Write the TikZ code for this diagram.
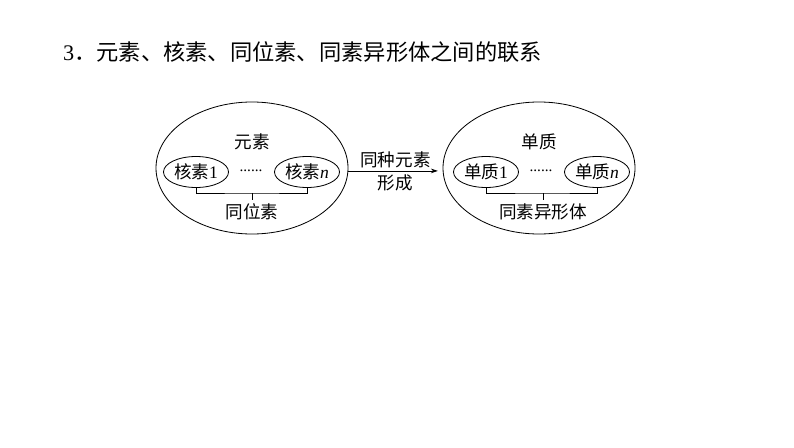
\documentclass[tikz,border=0pt]{standalone}
\usepackage{fontspec}
\setmainfont{Liberation Serif}
\newfontfamily\cjk{Noto Sans CJK SC}
\usetikzlibrary{arrows.meta,shapes.geometric}

\tikzset{
  xian/.style={line width=0.7pt},
  wenzi/.style={font=\cjk\fontsize{15}{17}\selectfont, inner sep=1pt},
  dayuan/.style={draw, ellipse, xian, minimum width=5.76cm, minimum height=3.96cm, inner sep=0pt},
  xiaoyuan/.style={draw, ellipse, xian, wenzi, minimum width=1.95cm, minimum height=0.93cm, inner sep=0pt},
  diandian/.style={font=\fontsize{13}{15}\selectfont, inner sep=0pt}
}

\begin{document}
\begin{tikzpicture}[x=0.03cm, y=-0.03cm]
    \useasboundingbox (0,0) rectangle (794,447);

    % 标题
    \node[anchor=west, font=\fontsize{19}{22}\selectfont, inner sep=0pt] (biaoti) at (63,52)
        {3{\cjk ．元素、核素、同位素、同素异形体之间的联系}};

    % 左边：元素
    \node[dayuan] (yuansu) at (252,168) {};
    \node[wenzi] (ysbq) at (252,142) {元素};
    \node[xiaoyuan] (he1) at (196,172) {核素\textrm{1}};
    \node[xiaoyuan] (hen) at (307,172) {核素\textrm{\textit{n}}};
    \node[diandian] (zuodian) at (251,171) {......};

    % 同位素的括号
    \coordinate (zuozhong) at (252,193);
    \draw[xian] (he1.south) |- (zuozhong) -| (hen.south);
    \draw[xian] (zuozhong) -- ++(0,7);
    \node[wenzi] (tongwei) at (252,212) {同位素};

    % 右边：单质
    \node[dayuan] (danzhi) at (539,168) {};
    \node[wenzi] (dzbq) at (539,142) {单质};
    \node[xiaoyuan] (dz1) at (486,172) {单质\textrm{1}};
    \node[xiaoyuan] (dzn) at (597,172) {单质\textrm{\textit{n}}};
    \node[diandian] (youdian) at (541,171) {......};

    % 同素异形体的括号
    \coordinate (youzhong) at (543,193);
    \draw[xian] (dz1.south) |- (youzhong) -| (dzn.south);
    \draw[xian] (youzhong) -- ++(0,7);
    \node[wenzi] (tongsu) at (543,212) {同素异形体};

    % 中间的箭头
    \draw[xian, -{Stealth[length=6pt,width=4pt]}, shorten >=4pt] ([yshift=-2.5pt]yuansu.east) -- ([yshift=-2.5pt]danzhi.west)
        node[wenzi, midway, above=1pt] (tzys) {同种元素}
        node[wenzi, midway, below=2pt] (xc) {形成};
\end{tikzpicture}
\end{document}
